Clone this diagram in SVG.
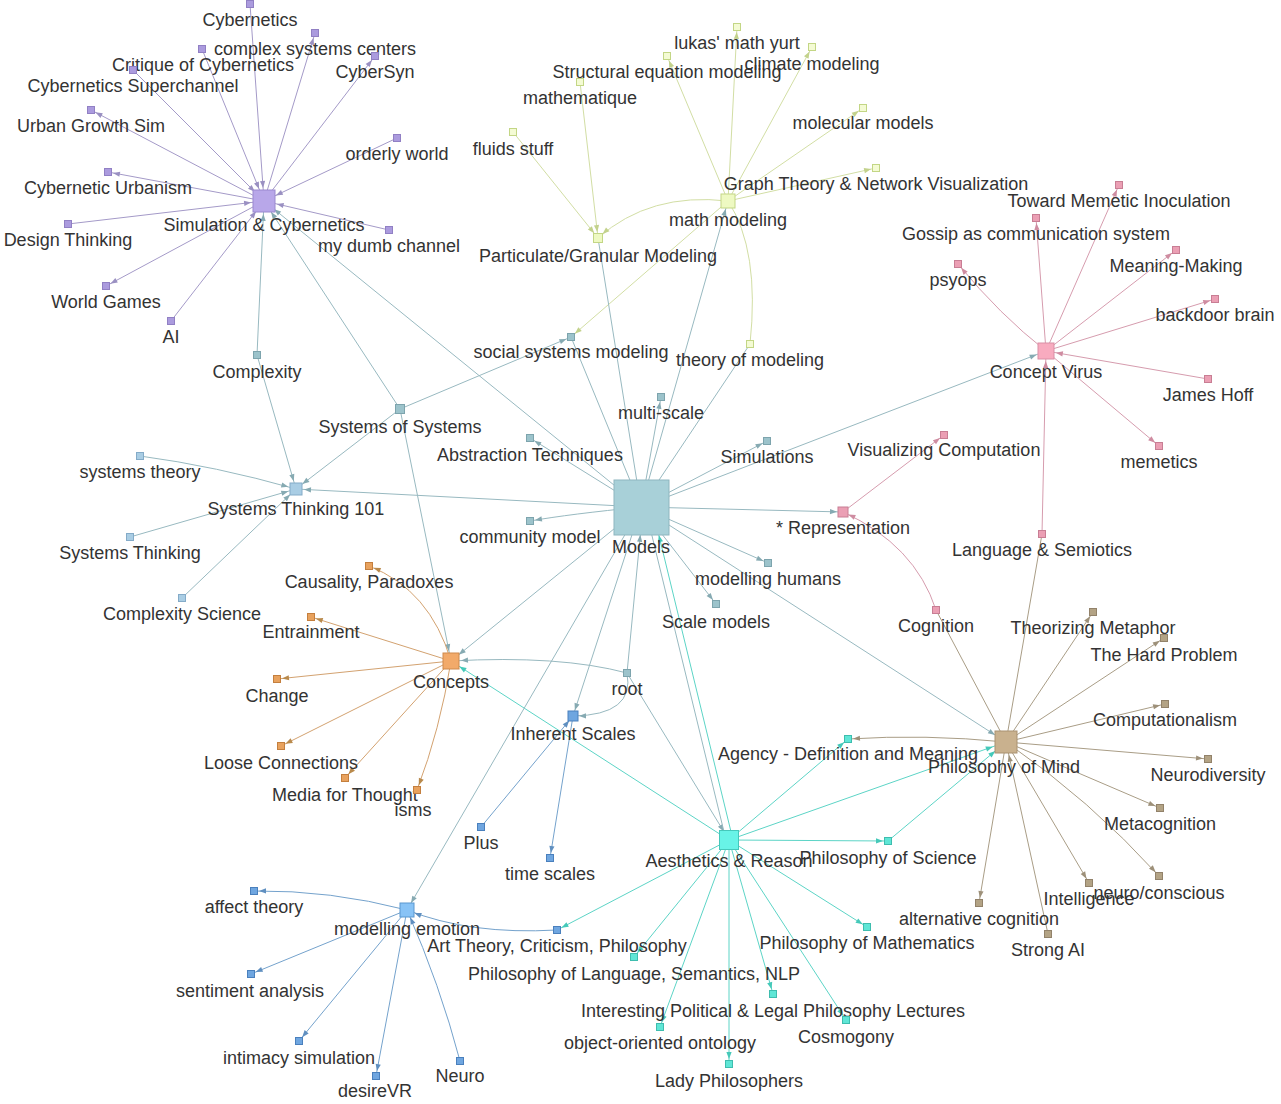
<svg xmlns="http://www.w3.org/2000/svg" width="1281" height="1104" viewBox="0 0 1281 1104">
<style>
.bg{fill:#ffffff}
.e{fill:none;stroke-width:1}
.pu{stroke:#a49ac8}.gr{stroke:#d2dea4}.pk{stroke:#d69cae}.br{stroke:#a99d86}.cy{stroke:#5cd4c6}.md{stroke:#98b9c0}.or{stroke:#d3a270}.bl{stroke:#74a2cc}
.t{font-family:"Liberation Sans",Arial,Helvetica,sans-serif;font-size:18px;fill:#333333;text-anchor:middle}
.npu{fill:#ab9bde;stroke:#9180c4}.hpu{fill:#b8a7e9;stroke:#9a88cf}
.ngr{fill:#f4fbd4;stroke:#c3d685}.hgr{fill:#eef9c2;stroke:#c3d685}
.npk{fill:#eb9fb4;stroke:#c87e94}.hpk{fill:#f8abbf;stroke:#da8fa5}
.nbr{fill:#b3a385;stroke:#92826a}.hbr{fill:#c9b18e;stroke:#a99171}
.ncy{fill:#5fe6d6;stroke:#3ebdae}.hcy{fill:#68f3e7;stroke:#45c8bb}
.nmd{fill:#9cc3cb;stroke:#7da4ad}.hmd{fill:#a8d0d8;stroke:#8eb6bf}
.nst{fill:#a9cde4;stroke:#84abc8}
.nor{fill:#e8a25e;stroke:#c47f3e}.hor{fill:#f2aa6a;stroke:#cf8a4c}
.nbl{fill:#6fa6e0;stroke:#4a80bd}.hbl{fill:#88c3f6;stroke:#5a98d0}
</style>
<defs>
<marker id="pu5" markerUnits="userSpaceOnUse" markerWidth="40" markerHeight="12" refX="14" refY="6" orient="auto"><path d="M9,6L2,3.4L2,8.6Z" fill="#9a90c2"/></marker>
<marker id="pu13" markerUnits="userSpaceOnUse" markerWidth="40" markerHeight="12" refX="22" refY="6" orient="auto"><path d="M9,6L2,3.4L2,8.6Z" fill="#9a90c2"/></marker>
<marker id="gr5" markerUnits="userSpaceOnUse" markerWidth="40" markerHeight="12" refX="14" refY="6" orient="auto"><path d="M9,6L2,3.4L2,8.6Z" fill="#c3d28c"/></marker>
<marker id="gr6" markerUnits="userSpaceOnUse" markerWidth="40" markerHeight="12" refX="15" refY="6" orient="auto"><path d="M9,6L2,3.4L2,8.6Z" fill="#c3d28c"/></marker>
<marker id="pk5" markerUnits="userSpaceOnUse" markerWidth="40" markerHeight="12" refX="14" refY="6" orient="auto"><path d="M9,6L2,3.4L2,8.6Z" fill="#cf8ca1"/></marker>
<marker id="pk6" markerUnits="userSpaceOnUse" markerWidth="40" markerHeight="12" refX="15" refY="6" orient="auto"><path d="M9,6L2,3.4L2,8.6Z" fill="#cf8ca1"/></marker>
<marker id="pk10" markerUnits="userSpaceOnUse" markerWidth="40" markerHeight="12" refX="19" refY="6" orient="auto"><path d="M9,6L2,3.4L2,8.6Z" fill="#cf8ca1"/></marker>
<marker id="br5" markerUnits="userSpaceOnUse" markerWidth="40" markerHeight="12" refX="14" refY="6" orient="auto"><path d="M9,6L2,3.4L2,8.6Z" fill="#9d9079"/></marker>
<marker id="br13" markerUnits="userSpaceOnUse" markerWidth="40" markerHeight="12" refX="22" refY="6" orient="auto"><path d="M9,6L2,3.4L2,8.6Z" fill="#9d9079"/></marker>
<marker id="cy5" markerUnits="userSpaceOnUse" markerWidth="40" markerHeight="12" refX="14" refY="6" orient="auto"><path d="M9,6L2,3.4L2,8.6Z" fill="#45c9b9"/></marker>
<marker id="cy10" markerUnits="userSpaceOnUse" markerWidth="40" markerHeight="12" refX="19" refY="6" orient="auto"><path d="M9,6L2,3.4L2,8.6Z" fill="#45c9b9"/></marker>
<marker id="cy13" markerUnits="userSpaceOnUse" markerWidth="40" markerHeight="12" refX="23" refY="6" orient="auto"><path d="M9,6L2,3.4L2,8.6Z" fill="#45c9b9"/></marker>
<marker id="cy29" markerUnits="userSpaceOnUse" markerWidth="40" markerHeight="12" refX="38" refY="6" orient="auto"><path d="M9,6L2,3.4L2,8.6Z" fill="#45c9b9"/></marker>
<marker id="md5" markerUnits="userSpaceOnUse" markerWidth="40" markerHeight="12" refX="14" refY="6" orient="auto"><path d="M9,6L2,3.4L2,8.6Z" fill="#86aab2"/></marker>
<marker id="md6" markerUnits="userSpaceOnUse" markerWidth="40" markerHeight="12" refX="15" refY="6" orient="auto"><path d="M9,6L2,3.4L2,8.6Z" fill="#86aab2"/></marker>
<marker id="md8" markerUnits="userSpaceOnUse" markerWidth="40" markerHeight="12" refX="17" refY="6" orient="auto"><path d="M9,6L2,3.4L2,8.6Z" fill="#86aab2"/></marker>
<marker id="md10" markerUnits="userSpaceOnUse" markerWidth="40" markerHeight="12" refX="19" refY="6" orient="auto"><path d="M9,6L2,3.4L2,8.6Z" fill="#86aab2"/></marker>
<marker id="md13" markerUnits="userSpaceOnUse" markerWidth="40" markerHeight="12" refX="22" refY="6" orient="auto"><path d="M9,6L2,3.4L2,8.6Z" fill="#86aab2"/></marker>
<marker id="md29" markerUnits="userSpaceOnUse" markerWidth="40" markerHeight="12" refX="37" refY="6" orient="auto"><path d="M9,6L2,3.4L2,8.6Z" fill="#86aab2"/></marker>
<marker id="or5" markerUnits="userSpaceOnUse" markerWidth="40" markerHeight="12" refX="14" refY="6" orient="auto"><path d="M9,6L2,3.4L2,8.6Z" fill="#b98a4c"/></marker>
<marker id="bl5" markerUnits="userSpaceOnUse" markerWidth="40" markerHeight="12" refX="14" refY="6" orient="auto"><path d="M9,6L2,3.4L2,8.6Z" fill="#5f8fc0"/></marker>
<marker id="bl6" markerUnits="userSpaceOnUse" markerWidth="40" markerHeight="12" refX="15" refY="6" orient="auto"><path d="M9,6L2,3.4L2,8.6Z" fill="#5f8fc0"/></marker>
<marker id="bl8" markerUnits="userSpaceOnUse" markerWidth="40" markerHeight="12" refX="17" refY="6" orient="auto"><path d="M9,6L2,3.4L2,8.6Z" fill="#5f8fc0"/></marker>
</defs>
<rect class="bg" x="0" y="0" width="1281" height="1104"/>
<g id="edges">
<line class="e pu" x1="250" y1="4" x2="264" y2="201" marker-end="url(#pu13)"/>
<line class="e pu" x1="264" y1="201" x2="315" y2="33" marker-end="url(#pu5)"/>
<line class="e pu" x1="202" y1="49" x2="264" y2="201" marker-end="url(#pu13)"/>
<line class="e pu" x1="264" y1="201" x2="375" y2="56" marker-end="url(#pu5)"/>
<line class="e pu" x1="133" y1="70" x2="264" y2="201" marker-end="url(#pu13)"/>
<line class="e pu" x1="264" y1="201" x2="91" y2="110" marker-end="url(#pu5)"/>
<line class="e pu" x1="397" y1="138" x2="264" y2="201" marker-end="url(#pu13)"/>
<line class="e pu" x1="264" y1="201" x2="108" y2="172" marker-end="url(#pu5)"/>
<line class="e pu" x1="68" y1="224" x2="264" y2="201" marker-end="url(#pu13)"/>
<line class="e pu" x1="389" y1="230" x2="264" y2="201" marker-end="url(#pu13)"/>
<line class="e pu" x1="264" y1="201" x2="106" y2="286" marker-end="url(#pu5)"/>
<line class="e pu" x1="171" y1="321" x2="264" y2="201" marker-end="url(#pu13)"/>
<line class="e md" x1="257" y1="355" x2="264" y2="201" marker-end="url(#md13)"/>
<line class="e md" x1="400" y1="409" x2="264" y2="201" marker-end="url(#md13)"/>
<line class="e md" x1="641" y1="507" x2="264" y2="201" marker-end="url(#md13)"/>
<line class="e gr" x1="513" y1="132" x2="598" y2="238" marker-end="url(#gr6)"/>
<line class="e gr" x1="580" y1="82" x2="598" y2="238" marker-end="url(#gr6)"/>
<path class="e gr" d="M728,201 Q650,192 598,238" marker-end="url(#gr6)"/>
<line class="e gr" x1="728" y1="201" x2="667" y2="56" marker-end="url(#gr5)"/>
<line class="e gr" x1="728" y1="201" x2="737" y2="27" marker-end="url(#gr5)"/>
<line class="e gr" x1="728" y1="201" x2="812" y2="47" marker-end="url(#gr5)"/>
<line class="e gr" x1="728" y1="201" x2="863" y2="108" marker-end="url(#gr5)"/>
<line class="e gr" x1="728" y1="201" x2="876" y2="168" marker-end="url(#gr5)"/>
<line class="e gr" x1="728" y1="201" x2="571" y2="337" marker-end="url(#gr5)"/>
<path class="e gr" d="M728,201 Q760,250 750,344"/>
<line class="e md" x1="641" y1="507" x2="728" y2="201" marker-end="url(#md8)"/>
<line class="e md" x1="641" y1="507" x2="598" y2="238"/>
<line class="e md" x1="750" y1="344" x2="641" y2="507"/>
<path class="e pk" d="M1046,351 Q1000,315 958,264" marker-end="url(#pk5)"/>
<line class="e pk" x1="1046" y1="351" x2="1036" y2="218" marker-end="url(#pk5)"/>
<line class="e pk" x1="1046" y1="351" x2="1119" y2="185" marker-end="url(#pk5)"/>
<line class="e pk" x1="1046" y1="351" x2="1176" y2="250" marker-end="url(#pk5)"/>
<line class="e pk" x1="1046" y1="351" x2="1215" y2="299" marker-end="url(#pk5)"/>
<line class="e pk" x1="1208" y1="379" x2="1046" y2="351" marker-end="url(#pk10)"/>
<line class="e pk" x1="1046" y1="351" x2="1159" y2="446" marker-end="url(#pk5)"/>
<line class="e pk" x1="1042" y1="534" x2="1046" y2="351" marker-end="url(#pk10)"/>
<line class="e md" x1="641" y1="507" x2="1046" y2="351" marker-end="url(#md10)"/>
<line class="e pk" x1="843" y1="512" x2="944" y2="435" marker-end="url(#pk5)"/>
<line class="e md" x1="641" y1="507" x2="843" y2="512" marker-end="url(#md6)"/>
<path class="e pk" d="M936,610 Q915,545 843,512" marker-end="url(#pk6)"/>
<line class="e br" x1="936" y1="610" x2="1006" y2="742"/>
<line class="e br" x1="1042" y1="534" x2="1006" y2="742"/>
<line class="e br" x1="1006" y1="742" x2="1093" y2="612" marker-end="url(#br5)"/>
<line class="e br" x1="1006" y1="742" x2="1164" y2="638" marker-end="url(#br5)"/>
<line class="e br" x1="1006" y1="742" x2="1165" y2="704" marker-end="url(#br5)"/>
<line class="e br" x1="1006" y1="742" x2="1208" y2="759" marker-end="url(#br5)"/>
<line class="e br" x1="1006" y1="742" x2="1160" y2="808" marker-end="url(#br5)"/>
<path class="e br" d="M1006,742 Q1090,800 1159,876" marker-end="url(#br5)"/>
<line class="e br" x1="1006" y1="742" x2="1089" y2="883" marker-end="url(#br5)"/>
<line class="e br" x1="1006" y1="742" x2="979" y2="903" marker-end="url(#br5)"/>
<line class="e br" x1="1048" y1="934" x2="1006" y2="742" marker-end="url(#br13)"/>
<path class="e br" d="M1006,742 Q925,734 848,739" marker-end="url(#br5)"/>
<line class="e md" x1="641" y1="507" x2="1006" y2="742" marker-end="url(#md13)"/>
<line class="e cy" x1="729" y1="840" x2="848" y2="739" marker-end="url(#cy5)"/>
<line class="e cy" x1="729" y1="840" x2="1006" y2="742" marker-end="url(#cy13)"/>
<line class="e cy" x1="729" y1="840" x2="888" y2="841" stroke-width="1.6" marker-end="url(#cy5)"/>
<line class="e cy" x1="888" y1="841" x2="1006" y2="742" marker-end="url(#cy13)"/>
<line class="e cy" x1="729" y1="840" x2="557" y2="930" marker-end="url(#cy5)"/>
<line class="e cy" x1="729" y1="840" x2="634" y2="957" marker-end="url(#cy5)"/>
<line class="e cy" x1="729" y1="840" x2="660" y2="1027" marker-end="url(#cy5)"/>
<line class="e cy" x1="729" y1="840" x2="729" y2="1064" stroke-width="2" marker-end="url(#cy5)"/>
<line class="e cy" x1="729" y1="840" x2="773" y2="994" marker-end="url(#cy5)"/>
<line class="e cy" x1="729" y1="840" x2="846" y2="1020" marker-end="url(#cy5)"/>
<line class="e cy" x1="729" y1="840" x2="867" y2="927" marker-end="url(#cy5)"/>
<line class="e cy" x1="733" y1="840" x2="652" y2="507" stroke-width="1.8" marker-end="url(#cy29)"/>
<line class="e cy" x1="729" y1="840" x2="451" y2="661" marker-end="url(#cy10)"/>
<path class="e bl" d="M557,930 Q470,935 407,910" marker-end="url(#bl8)"/>
<line class="e md" x1="641" y1="507" x2="530" y2="438" marker-end="url(#md5)"/>
<line class="e md" x1="641" y1="507" x2="661" y2="397" marker-end="url(#md5)"/>
<line class="e md" x1="641" y1="507" x2="767" y2="441" marker-end="url(#md5)"/>
<path class="e md" d="M641,507 Q570,514 530,521" marker-end="url(#md5)"/>
<line class="e md" x1="641" y1="507" x2="768" y2="563" marker-end="url(#md5)"/>
<line class="e md" x1="641" y1="507" x2="716" y2="604" marker-end="url(#md5)"/>
<line class="e md" x1="641" y1="507" x2="571" y2="337"/>
<line class="e md" x1="400" y1="409" x2="571" y2="337" marker-end="url(#md5)"/>
<line class="e md" x1="400" y1="409" x2="296" y2="489" marker-end="url(#md8)"/>
<line class="e md" x1="400" y1="409" x2="451" y2="661" marker-end="url(#md10)"/>
<line class="e md" x1="257" y1="355" x2="296" y2="489" marker-end="url(#md8)"/>
<path class="e md" d="M140,456 Q215,466 296,489" marker-end="url(#md8)"/>
<line class="e md" x1="130" y1="537" x2="296" y2="489" marker-end="url(#md8)"/>
<line class="e md" x1="182" y1="598" x2="296" y2="489" marker-end="url(#md8)"/>
<line class="e md" x1="641" y1="507" x2="296" y2="489" marker-end="url(#md8)"/>
<line class="e md" x1="641" y1="507" x2="451" y2="661" marker-end="url(#md10)"/>
<line class="e md" x1="641" y1="507" x2="573" y2="716" marker-end="url(#md6)"/>
<line class="e md" x1="627" y1="673" x2="643" y2="507" marker-end="url(#md29)"/>
<path class="e md" d="M627,673 Q560,655 451,661" marker-end="url(#md10)"/>
<path class="e md" d="M627,673 Q635,715 573,716" marker-end="url(#md6)"/>
<line class="e md" x1="627" y1="673" x2="729" y2="840" marker-end="url(#md10)"/>
<line class="e md" x1="645" y1="507" x2="726" y2="840"/>
<line class="e md" x1="641" y1="507" x2="407" y2="910" marker-end="url(#md8)"/>
<line class="e bl" x1="481" y1="827" x2="573" y2="716" marker-end="url(#bl6)"/>
<line class="e bl" x1="573" y1="716" x2="550" y2="858" marker-end="url(#bl5)"/>
<path class="e bl" d="M407,910 Q330,890 254,891" marker-end="url(#bl5)"/>
<line class="e bl" x1="407" y1="910" x2="251" y2="974" marker-end="url(#bl5)"/>
<line class="e bl" x1="407" y1="910" x2="299" y2="1041" marker-end="url(#bl5)"/>
<line class="e bl" x1="407" y1="910" x2="376" y2="1076" marker-end="url(#bl5)"/>
<path class="e bl" d="M460,1061 Q440,985 407,910" marker-end="url(#bl8)"/>
<path class="e or" d="M451,661 Q430,590 369,566" marker-end="url(#or5)"/>
<line class="e or" x1="451" y1="661" x2="311" y2="617" marker-end="url(#or5)"/>
<line class="e or" x1="451" y1="661" x2="277" y2="679" marker-end="url(#or5)"/>
<line class="e or" x1="451" y1="661" x2="281" y2="746" marker-end="url(#or5)"/>
<line class="e or" x1="451" y1="661" x2="345" y2="778" marker-end="url(#or5)"/>
<path class="e or" d="M451,661 Q440,730 417,790" marker-end="url(#or5)"/>
</g>
<g id="n-simcyb"><rect class="hpu" x="253" y="190" width="22" height="22"/><text class="t" x="264" y="231">Simulation &amp; Cybernetics</text></g>
<g id="n-cybernetics"><rect class="npu" x="246.5" y="0.5" width="7" height="7"/><text class="t" x="250" y="26">Cybernetics</text></g>
<g id="n-complexsys"><rect class="npu" x="311.5" y="29.5" width="7" height="7"/><text class="t" x="315" y="55">complex systems centers</text></g>
<g id="n-critique"><rect class="npu" x="198.5" y="45.5" width="7" height="7"/><text class="t" x="203" y="71">Critique of Cybernetics</text></g>
<g id="n-cybersyn"><rect class="npu" x="371.5" y="52.5" width="7" height="7"/><text class="t" x="375" y="78">CyberSyn</text></g>
<g id="n-superchannel"><rect class="npu" x="129.5" y="66.5" width="7" height="7"/><text class="t" x="133" y="92">Cybernetics Superchannel</text></g>
<g id="n-urbangrowth"><rect class="npu" x="87.5" y="106.5" width="7" height="7"/><text class="t" x="91" y="132">Urban Growth Sim</text></g>
<g id="n-orderly"><rect class="npu" x="393.5" y="134.5" width="7" height="7"/><text class="t" x="397" y="160">orderly world</text></g>
<g id="n-cyburban"><rect class="npu" x="104.5" y="168.5" width="7" height="7"/><text class="t" x="108" y="194">Cybernetic Urbanism</text></g>
<g id="n-design"><rect class="npu" x="64.5" y="220.5" width="7" height="7"/><text class="t" x="68" y="246">Design Thinking</text></g>
<g id="n-dumb"><rect class="npu" x="385.5" y="226.5" width="7" height="7"/><text class="t" x="389" y="252">my dumb channel</text></g>
<g id="n-worldgames"><rect class="npu" x="102.5" y="282.5" width="7" height="7"/><text class="t" x="106" y="308">World Games</text></g>
<g id="n-ai"><rect class="npu" x="167.5" y="317.5" width="7" height="7"/><text class="t" x="171" y="343">AI</text></g>
<g id="n-mathmodeling"><rect class="hgr" x="721" y="194" width="14" height="14"/><text class="t" x="728" y="226">math modeling</text></g>
<g id="n-yurt"><rect class="ngr" x="733.5" y="23.5" width="7" height="7"/><text class="t" x="737" y="49">lukas' math yurt</text></g>
<g id="n-climate"><rect class="ngr" x="808.5" y="43.5" width="7" height="7"/><text class="t" x="812" y="70">climate modeling</text></g>
<g id="n-sem"><rect class="ngr" x="663.5" y="52.5" width="7" height="7"/><text class="t" x="667" y="78">Structural equation modeling</text></g>
<g id="n-mathematique"><rect class="ngr" x="576.5" y="78.5" width="7" height="7"/><text class="t" x="580" y="104">mathematique</text></g>
<g id="n-molecular"><rect class="ngr" x="859.5" y="104.5" width="7" height="7"/><text class="t" x="863" y="129">molecular models</text></g>
<g id="n-fluids"><rect class="ngr" x="509.5" y="128.5" width="7" height="7"/><text class="t" x="513" y="155">fluids stuff</text></g>
<g id="n-graphtheory"><rect class="ngr" x="872.5" y="164.5" width="7" height="7"/><text class="t" x="876" y="190">Graph Theory &amp; Network Visualization</text></g>
<g id="n-particulate"><rect class="hgr" x="593.5" y="233.5" width="9" height="9"/><text class="t" x="598" y="262">Particulate/Granular Modeling</text></g>
<g id="n-theorymodeling"><rect class="ngr" x="746.5" y="340.5" width="7" height="7"/><text class="t" x="750" y="366">theory of modeling</text></g>
<g id="n-conceptvirus"><rect class="hpk" x="1038" y="343" width="16" height="16"/><text class="t" x="1046" y="378">Concept Virus</text></g>
<g id="n-memeticinoc"><rect class="npk" x="1115.5" y="181.5" width="7" height="7"/><text class="t" x="1119" y="207">Toward Memetic Inoculation</text></g>
<g id="n-gossip"><rect class="npk" x="1032.5" y="214.5" width="7" height="7"/><text class="t" x="1036" y="240">Gossip as communication system</text></g>
<g id="n-meaning"><rect class="npk" x="1172.5" y="246.5" width="7" height="7"/><text class="t" x="1176" y="272">Meaning-Making</text></g>
<g id="n-psyops"><rect class="npk" x="954.5" y="260.5" width="7" height="7"/><text class="t" x="958" y="286">psyops</text></g>
<g id="n-backdoor"><rect class="npk" x="1211.5" y="295.5" width="7" height="7"/><text class="t" x="1215" y="321">backdoor brain</text></g>
<g id="n-jameshoff"><rect class="npk" x="1204.5" y="375.5" width="7" height="7"/><text class="t" x="1208" y="401">James Hoff</text></g>
<g id="n-memetics"><rect class="npk" x="1155.5" y="442.5" width="7" height="7"/><text class="t" x="1159" y="468">memetics</text></g>
<g id="n-viscomp"><rect class="npk" x="940.5" y="431.5" width="7" height="7"/><text class="t" x="944" y="456">Visualizing Computation</text></g>
<g id="n-representation"><rect class="npk" x="838" y="507" width="10" height="10"/><text class="t" x="843" y="534">* Representation</text></g>
<g id="n-langsem"><rect class="npk" x="1038.5" y="530.5" width="7" height="7"/><text class="t" x="1042" y="556">Language &amp; Semiotics</text></g>
<g id="n-cognition"><rect class="npk" x="932.5" y="606.5" width="7" height="7"/><text class="t" x="936" y="632">Cognition</text></g>
<g id="n-philmind"><rect class="hbr" x="995" y="731" width="22" height="22"/><text class="t" x="1004" y="773">Philosophy of Mind</text></g>
<g id="n-metaphor"><rect class="nbr" x="1089.5" y="608.5" width="7" height="7"/><text class="t" x="1093" y="634">Theorizing Metaphor</text></g>
<g id="n-hardproblem"><rect class="nbr" x="1160.5" y="634.5" width="7" height="7"/><text class="t" x="1164" y="661">The Hard Problem</text></g>
<g id="n-computationalism"><rect class="nbr" x="1161.5" y="700.5" width="7" height="7"/><text class="t" x="1165" y="726">Computationalism</text></g>
<g id="n-neurodiversity"><rect class="nbr" x="1204.5" y="755.5" width="7" height="7"/><text class="t" x="1208" y="781">Neurodiversity</text></g>
<g id="n-metacognition"><rect class="nbr" x="1156.5" y="804.5" width="7" height="7"/><text class="t" x="1160" y="830">Metacognition</text></g>
<g id="n-neuroconscious"><rect class="nbr" x="1155.5" y="872.5" width="7" height="7"/><text class="t" x="1159" y="899">neuro/conscious</text></g>
<g id="n-intelligence"><rect class="nbr" x="1085.5" y="879.5" width="7" height="7"/><text class="t" x="1089" y="905">Intelligence</text></g>
<g id="n-altcog"><rect class="nbr" x="975.5" y="899.5" width="7" height="7"/><text class="t" x="979" y="925">alternative cognition</text></g>
<g id="n-strongai"><rect class="nbr" x="1044.5" y="930.5" width="7" height="7"/><text class="t" x="1048" y="956">Strong AI</text></g>
<g id="n-aesthetics"><rect class="hcy" x="719.5" y="830.5" width="19" height="19"/><text class="t" x="729" y="867">Aesthetics &amp; Reason</text></g>
<g id="n-agency"><rect class="ncy" x="844.5" y="735.5" width="7" height="7"/><text class="t" x="848" y="760">Agency - Definition and Meaning</text></g>
<g id="n-philscience"><rect class="ncy" x="884.5" y="837.5" width="7" height="7"/><text class="t" x="888" y="864">Philosophy of Science</text></g>
<g id="n-arttheory"><rect class="nbl" x="553.5" y="926.5" width="7" height="7"/><text class="t" x="557" y="952">Art Theory, Criticism, Philosophy</text></g>
<g id="n-phillang"><rect class="ncy" x="630.5" y="953.5" width="7" height="7"/><text class="t" x="634" y="980">Philosophy of Language, Semantics, NLP</text></g>
<g id="n-philmath"><rect class="ncy" x="863.5" y="923.5" width="7" height="7"/><text class="t" x="867" y="949">Philosophy of Mathematics</text></g>
<g id="n-political"><rect class="ncy" x="769.5" y="990.5" width="7" height="7"/><text class="t" x="773" y="1017">Interesting Political &amp; Legal Philosophy Lectures</text></g>
<g id="n-cosmogony"><rect class="ncy" x="842.5" y="1016.5" width="7" height="7"/><text class="t" x="846" y="1043">Cosmogony</text></g>
<g id="n-ooo"><rect class="ncy" x="656.5" y="1023.5" width="7" height="7"/><text class="t" x="660" y="1049">object-oriented ontology</text></g>
<g id="n-ladyphil"><rect class="ncy" x="725.5" y="1060.5" width="7" height="7"/><text class="t" x="729" y="1087">Lady Philosophers</text></g>
<g id="n-models"><rect class="hmd" x="614" y="480" width="55" height="55"/><text class="t" x="641" y="553">Models</text></g>
<g id="n-abstraction"><rect class="nmd" x="526.5" y="434.5" width="7" height="7"/><text class="t" x="530" y="461">Abstraction Techniques</text></g>
<g id="n-multiscale"><rect class="nmd" x="657.5" y="393.5" width="7" height="7"/><text class="t" x="661" y="419">multi-scale</text></g>
<g id="n-simulations"><rect class="nmd" x="763.5" y="437.5" width="7" height="7"/><text class="t" x="767" y="463">Simulations</text></g>
<g id="n-community"><rect class="nmd" x="526.5" y="517.5" width="7" height="7"/><text class="t" x="530" y="543">community model</text></g>
<g id="n-modhumans"><rect class="nmd" x="764.5" y="559.5" width="7" height="7"/><text class="t" x="768" y="585">modelling humans</text></g>
<g id="n-scalemodels"><rect class="nmd" x="712.5" y="600.5" width="7" height="7"/><text class="t" x="716" y="628">Scale models</text></g>
<g id="n-sos"><rect class="nmd" x="395.5" y="404.5" width="9" height="9"/><text class="t" x="400" y="433">Systems of Systems</text></g>
<g id="n-complexity"><rect class="nmd" x="253.5" y="351.5" width="7" height="7"/><text class="t" x="257" y="378">Complexity</text></g>
<g id="n-socialsys"><rect class="nmd" x="567.5" y="333.5" width="7" height="7"/><text class="t" x="571" y="358">social systems modeling</text></g>
<g id="n-st101"><rect class="nst" x="290" y="483" width="12" height="12"/><text class="t" x="296" y="515">Systems Thinking 101</text></g>
<g id="n-systheory"><rect class="nst" x="136.5" y="452.5" width="7" height="7"/><text class="t" x="140" y="478">systems theory</text></g>
<g id="n-systhinking"><rect class="nst" x="126.5" y="533.5" width="7" height="7"/><text class="t" x="130" y="559">Systems Thinking</text></g>
<g id="n-complexsci"><rect class="nst" x="178.5" y="594.5" width="7" height="7"/><text class="t" x="182" y="620">Complexity Science</text></g>
<g id="n-root"><rect class="nmd" x="623.5" y="669.5" width="7" height="7"/><text class="t" x="627" y="695">root</text></g>
<g id="n-inherent"><rect class="nbl" x="568" y="711" width="10" height="10"/><text class="t" x="573" y="740">Inherent Scales</text></g>
<g id="n-plus"><rect class="nbl" x="477.5" y="823.5" width="7" height="7"/><text class="t" x="481" y="849">Plus</text></g>
<g id="n-timescales"><rect class="nbl" x="546.5" y="854.5" width="7" height="7"/><text class="t" x="550" y="880">time scales</text></g>
<g id="n-modemotion"><rect class="hbl" x="400" y="903" width="14" height="14"/><text class="t" x="407" y="935">modelling emotion</text></g>
<g id="n-affect"><rect class="nbl" x="250.5" y="887.5" width="7" height="7"/><text class="t" x="254" y="913">affect theory</text></g>
<g id="n-sentiment"><rect class="nbl" x="247.5" y="970.5" width="7" height="7"/><text class="t" x="250" y="997">sentiment analysis</text></g>
<g id="n-intimacy"><rect class="nbl" x="295.5" y="1037.5" width="7" height="7"/><text class="t" x="299" y="1064">intimacy simulation</text></g>
<g id="n-desirevr"><rect class="nbl" x="372.5" y="1072.5" width="7" height="7"/><text class="t" x="375" y="1097">desireVR</text></g>
<g id="n-neuro"><rect class="nbl" x="456.5" y="1057.5" width="7" height="7"/><text class="t" x="460" y="1082">Neuro</text></g>
<g id="n-concepts"><rect class="hor" x="443" y="653" width="16" height="16"/><text class="t" x="451" y="688">Concepts</text></g>
<g id="n-causality"><rect class="nor" x="365.5" y="562.5" width="7" height="7"/><text class="t" x="369" y="588">Causality, Paradoxes</text></g>
<g id="n-entrainment"><rect class="nor" x="307.5" y="613.5" width="7" height="7"/><text class="t" x="311" y="638">Entrainment</text></g>
<g id="n-change"><rect class="nor" x="273.5" y="675.5" width="7" height="7"/><text class="t" x="277" y="702">Change</text></g>
<g id="n-loose"><rect class="nor" x="277.5" y="742.5" width="7" height="7"/><text class="t" x="281" y="769">Loose Connections</text></g>
<g id="n-media"><rect class="nor" x="341.5" y="774.5" width="7" height="7"/><text class="t" x="345" y="801">Media for Thought</text></g>
<g id="n-isms"><rect class="nor" x="413.5" y="786.5" width="7" height="7"/><text class="t" x="413" y="816">isms</text></g>
</svg>
